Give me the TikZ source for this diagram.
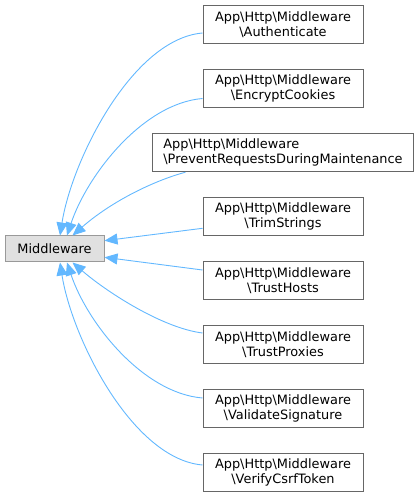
\documentclass[tikz,border=0pt]{standalone}
\usepackage{fontspec}
\setmainfont{DejaVu Sans}
\usetikzlibrary{arrows.meta,positioning}
\definecolor{EdgeBlue}{HTML}{63B8FF}
\definecolor{NodeGray}{HTML}{666666}
\definecolor{BaseGray}{HTML}{999999}
\definecolor{BaseFill}{HTML}{E0E0E0}
\newcommand{\bsl}{\textbackslash}

\begin{document}
\begin{tikzpicture}[
        x=1pt,y=1pt,
        node distance=24.5pt,
        cls/.style={draw=NodeGray,line width=1pt,fill=white,minimum width=160pt,minimum height=38.5pt,inner xsep=10.5pt,align=center,font=\fontsize{12.9}{15.5}\selectfont},
        base/.style={draw=BaseGray,line width=1pt,fill=BaseFill,minimum width=99pt,minimum height=26pt,font=\fontsize{12.9}{15.5}\selectfont},
        arr/.style={-{Triangle[length=13pt,width=11pt]},line width=0.9pt,EdgeBlue}
      ]
        \useasboundingbox (0,0) rectangle (420,499);
        \node[base] (mw) at (54.5,250) {Middleware};
        \node[cls] (auth) at (283,474.5) {App\bsl Http\bsl Middleware\\\bsl Authenticate};
        \node[cls,below=of auth] (enc) {App\bsl Http\bsl Middleware\\\bsl EncryptCookies};
        \node[cls,below=of enc,align=left] (prev) {App\bsl Http\bsl Middleware\\\bsl PreventRequestsDuringMaintenance};
        \node[cls,below=of prev] (trim) {App\bsl Http\bsl Middleware\\\bsl TrimStrings};
        \node[cls,below=of trim] (hosts) {App\bsl Http\bsl Middleware\\\bsl TrustHosts};
        \node[cls,below=of hosts] (prox) {App\bsl Http\bsl Middleware\\\bsl TrustProxies};
        \node[cls,below=of prox] (valid) {App\bsl Http\bsl Middleware\\\bsl ValidateSignature};
        \node[cls,below=of valid] (csrf) {App\bsl Http\bsl Middleware\\\bsl VerifyCsrfToken};
        % upper children
        \draw[arr] ([yshift=-8.5pt]auth.west) .. controls +(-70,-6) and +(12,76) .. ([xshift=5.5pt]mw.north);
        \draw[arr] ([yshift=-10pt]enc.west) .. controls +(-60,-5) and +(20,60) .. ([xshift=12.5pt]mw.north);
        \draw[arr] ([xshift=33pt]prev.south west) .. controls +(-30,-8) and +(40,35) .. ([xshift=18pt]mw.north);
        \draw[arr] ([yshift=-11.8pt]trim.west) -- ([yshift=8.3pt]mw.east);
        % lower children
        \draw[arr] ([yshift=10.5pt]hosts.west) -- ([yshift=-8.3pt]mw.east);
        \draw[arr] ([yshift=11.5pt]prox.west) .. controls +(-40,5) and +(35,-30) .. ([xshift=18pt]mw.south);
        \draw[arr] ([yshift=10.5pt]valid.west) .. controls +(-60,5) and +(20,-60) .. ([xshift=12.5pt]mw.south);
        \draw[arr] ([yshift=7.5pt]csrf.west) .. controls +(-70,6) and +(12,-76) .. ([xshift=5.5pt]mw.south);
      \end{tikzpicture}
\end{document}
